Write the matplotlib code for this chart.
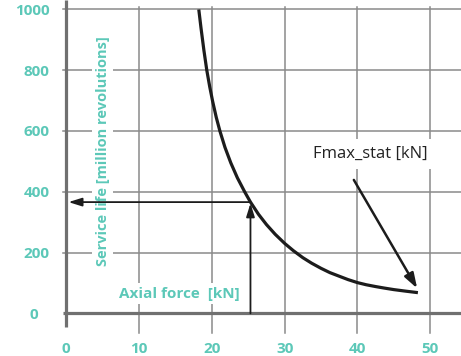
import matplotlib
matplotlib.use("Agg")
import matplotlib.pyplot as plt
from matplotlib.transforms import ScaledTranslation

# Service life curve: axial force [kN] vs. life [million revolutions]
force_kn = [18.2, 18.5, 18.9, 19.3, 19.7, 20.1, 20.6, 21.1, 21.8, 22.6,
            23.5, 24.5, 25.3, 26.4, 27.5, 28.7, 30.0, 31.2, 32.5, 33.7,
            35.0, 36.2, 37.5, 38.7, 40.0, 41.2, 42.5, 43.7, 45.0, 46.6, 48.3]
life_mrev = [1000, 940, 866, 800, 746, 698, 645, 600, 546, 495,
             446, 400, 366, 326, 292, 260, 230, 206, 183, 165,
             148, 134, 122, 111, 101, 94, 88, 83, 78, 73, 68]

x_ticks = [0, 10, 20, 30, 40, 50]
y_ticks = [0, 200, 400, 600, 800, 1000]

# read-off example: force -> life
example_force = 25.3
example_life = 366

# Fmax_stat pointer
fmax_start = (39.5, 439)
fmax_tip = (48.2, 82)

TEAL = "#5cc8b8"
GRID = "#8a8a8a"
AXIS = "#707070"
INK = "#1c1c1c"

plt.rcParams["font.family"] = ["Open Sans", "DejaVu Sans"]

fig = plt.figure(figsize=(4.61, 3.56), dpi=100)
ax = fig.add_axes([0.1438, 0.1199, 0.8562, 0.880])
ax.set_xlim(0, 54.22)
ax.set_ylim(0, 1031)
for s in ax.spines.values():
    s.set_visible(False)

# grid
for xv in x_ticks[1:]:
    ax.plot([xv, xv], [-65, 1008], color=GRID, lw=1.1, clip_on=False, zorder=1)
for yv in y_ticks[1:]:
    ax.plot([-0.5, 54.22], [yv, yv], color=GRID, lw=1.1, clip_on=False, zorder=1)

# main axes lines
ax.plot([0, 0], [-45, 1031], color=AXIS, lw=2.3, clip_on=False, zorder=3,
        solid_capstyle="butt")
ax.plot([-0.5, 54.22], [0, 0], color=AXIS, lw=2.3, clip_on=False, zorder=3,
        solid_capstyle="butt")

# tick labels
ax.set_xticks(x_ticks)
ax.set_yticks(y_ticks)
ax.tick_params(length=0, labelcolor=TEAL, labelsize=11)
ax.tick_params(axis="x", pad=21)
ax.tick_params(axis="y", pad=12)
for lbl in ax.get_xticklabels() + ax.get_yticklabels():
    lbl.set_fontweight("bold")
zero = ax.get_yticklabels()[0]
zero.set_transform(zero.get_transform() + ScaledTranslation(-12 / 100, 0, fig.dpi_scale_trans))

box = dict(boxstyle="square,pad=0.25", fc="white", ec="none")
ax.text(4.98, 534, "Service life [million revolutions]", rotation=90,
        ha="center", va="center", color=TEAL, fontsize=10.5, fontweight="bold",
        bbox=box, zorder=2, clip_on=False)
ax.text(7.2, 65, "Axial force  [kN]", ha="left", va="center", color=TEAL,
        fontsize=11, fontweight="bold", bbox=box, zorder=2)
ax.text(41.7, 524, "Fmax_stat [kN]", ha="center", va="center", color="#222222",
        fontsize=12, bbox=dict(boxstyle="square,pad=0.4", fc="white", ec="none"),
        zorder=2)

# life curve
ax.plot(force_kn, life_mrev, color=INK, lw=2.3, zorder=4,
        solid_capstyle="butt", solid_joinstyle="round", clip_on=False)

# read-off arrows
ax.annotate("", xy=(example_force, example_life - 4), xytext=(example_force, 0),
            arrowprops=dict(arrowstyle="-|>,head_length=0.8,head_width=0.25",
                            color=INK, lw=1.3, shrinkA=0, shrinkB=0), zorder=5)
ax.annotate("", xy=(0.3, example_life), xytext=(example_force, example_life),
            arrowprops=dict(arrowstyle="-|>,head_length=0.8,head_width=0.25",
                            color=INK, lw=1.3, shrinkA=0, shrinkB=0), zorder=5)
ax.annotate("", xy=fmax_tip, xytext=fmax_start,
            arrowprops=dict(arrowstyle="-|>,head_length=0.9,head_width=0.3",
                            color=INK, lw=1.8, shrinkA=0, shrinkB=0), zorder=5)

fig.savefig("out.png", dpi=100)
